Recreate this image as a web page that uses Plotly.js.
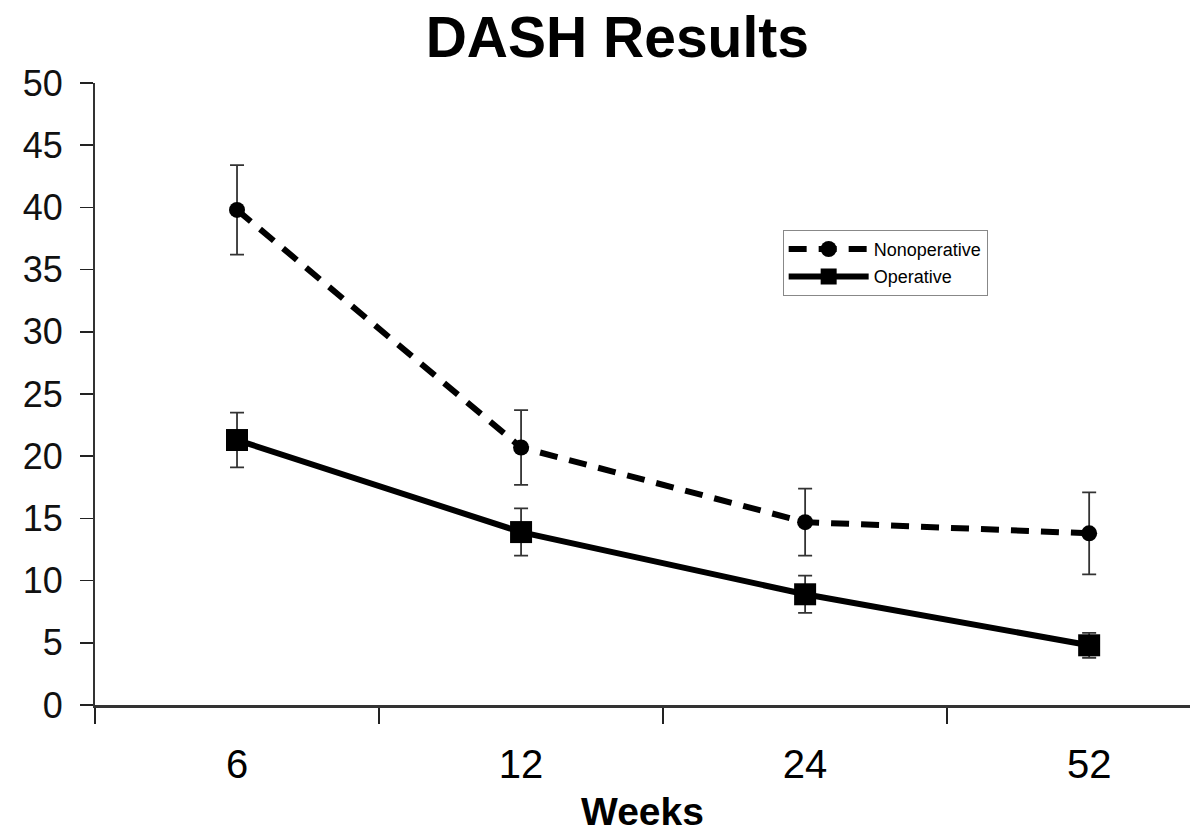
<!DOCTYPE html>
<html>
<head>
<meta charset="utf-8">
<script src="https://cdn.plot.ly/plotly-3.0.1.min.js"></script>
<style>html,body{margin:0;padding:0;background:#fff;}#chart{width:1190px;height:833px;}</style>
</head>
<body>
<div id="chart"></div>
<script>
const weeks = ["6", "12", "24", "52"];
const nonopMean = [39.8, 20.7, 14.7, 13.8];
const nonopErr = [3.6, 3.0, 2.7, 3.3];
const opMean = [21.3, 13.9, 8.9, 4.8];
const opErr = [2.2, 1.9, 1.5, 1.0];
const yTicks = [0, 5, 10, 15, 20, 25, 30, 35, 40, 45, 50];

const font = 'Arial, "Liberation Sans", sans-serif';

const traces = [
  {
    x: weeks, y: nonopMean, name: 'Nonoperative', type: 'scatter', mode: 'lines+markers',
    legendgroup: 'a',
    line: {color: '#000', width: 6, dash: '18px,12px'},
    marker: {symbol: 'circle', size: 16, color: '#000'},
    error_y: {type: 'data', array: nonopErr, visible: true, color: '#333', thickness: 1.8, width: 7}
  },
  {
    x: weeks, y: opMean, name: 'Operative', type: 'scatter', mode: 'lines+markers',
    legendgroup: 'b',
    line: {color: '#000', width: 6},
    marker: {symbol: 'square', size: 22, color: '#000'},
    error_y: {type: 'data', array: opErr, visible: true, color: '#333', thickness: 1.8, width: 7}
  }
];

const layout = {
  width: 1190, height: 833,
  paper_bgcolor: '#fff', plot_bgcolor: '#fff',
  margin: {l: 95, r: 0, t: 83, b: 128},
  title: {text: 'DASH Results', font: {family: font, size: 57, color: '#000', weight: 'bold'},
          x: 0.477, xref: 'paper', xanchor: 'center', y: 0.955, yref: 'container', yanchor: 'middle'},
  showlegend: true,
  legend: {x: 0.628, y: 0.764, xanchor: 'left', yanchor: 'top', bgcolor: '#fff',
           bordercolor: '#888', borderwidth: 1, font: {family: font, size: 18, color: '#000'},
           itemwidth: 80, tracegroupgap: 1},
  xaxis: {
    type: 'category', range: [-0.5, 3.355], tickson: 'boundaries',
    ticks: 'outside', ticklen: 16, tickwidth: 1.5, tickcolor: '#222',
    showline: true, linecolor: '#333', linewidth: 2.5, showgrid: false, zeroline: false,
    tickfont: {family: font, size: 40, color: '#000'}, ticklabelstandoff: 22,
    title: {text: 'Weeks', font: {family: font, size: 39, color: '#000', weight: 'bold'}, standoff: 14}
  },
  yaxis: {
    range: [0, 50], tickvals: yTicks, ticktext: yTicks.map(String),
    ticks: 'outside', ticklen: 13, tickwidth: 1.5, tickcolor: '#222',
    showline: true, linecolor: '#333', linewidth: 2, showgrid: false, zeroline: false,
    tickfont: {family: font, size: 36, color: '#111'}, ticklabelstandoff: 10
  }
};

Plotly.newPlot('chart', traces, layout, {displayModeBar: false, staticPlot: true});
</script>
</body>
</html>
